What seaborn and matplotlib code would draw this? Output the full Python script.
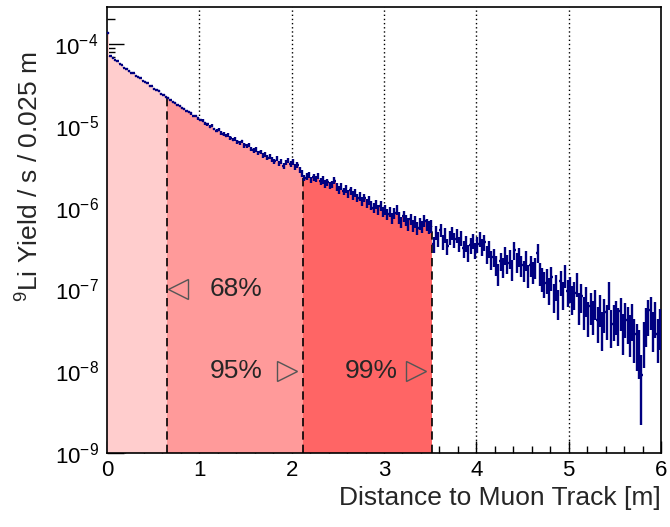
import numpy as np
import pandas as pd
import seaborn as sns
import matplotlib.pyplot as plt
from matplotlib.ticker import FixedLocator, LogLocator, MultipleLocator, NullFormatter, LogFormatterSciNotation

# 9Li yield per 0.025 m bin, log10 values (0 -> 6 m)
log_yield = [
    -3.87, -4.15, -4.17, -4.20, -4.21, -4.24, -4.26, -4.29, -4.30, -4.33,
    -4.35, -4.36, -4.39, -4.40, -4.42, -4.45, -4.46, -4.48, -4.51, -4.52,
    -4.55, -4.56, -4.58, -4.61, -4.62, -4.65, -4.66, -4.69, -4.71, -4.72,
    -4.75, -4.76, -4.78, -4.79, -4.82, -4.83, -4.85, -4.88, -4.88, -4.91,
    -4.93, -4.94, -4.97, -4.98, -5.01, -5.00, -5.04, -5.06, -5.05, -5.09,
    -5.10, -5.12, -5.11, -5.15, -5.17, -5.16, -5.20, -5.21, -5.19, -5.24,
    -5.25, -5.23, -5.28, -5.30, -5.29, -5.33, -5.32, -5.36, -5.35, -5.39,
    -5.37, -5.41, -5.43, -5.40, -5.46, -5.44, -5.49, -5.45, -5.42, -5.47,
    -5.44, -5.50, -5.48, -5.54, -5.58, -5.64, -5.62, -5.60, -5.66, -5.63,
    -5.65, -5.61, -5.68, -5.66, -5.71, -5.69, -5.73, -5.72, -5.67, -5.75,
    -5.78, -5.74, -5.80, -5.77, -5.83, -5.79, -5.85, -5.82, -5.88, -5.86,
    -5.92, -5.88, -5.95, -5.91, -5.97, -6.00, -5.96, -6.03, -5.98, -6.05,
    -6.02, -6.08, -6.05, -6.13, -6.07, -6.03, -6.12, -6.18, -6.10, -6.15,
    -6.20, -6.14, -6.22, -6.17, -6.25, -6.19, -6.23, -6.16, -6.21, -6.24,
    -6.22, -6.45, -6.30, -6.38, -6.27, -6.42, -6.33, -6.47, -6.36, -6.31,
    -6.39, -6.34, -6.44, -6.37, -6.50, -6.43, -6.55, -6.46, -6.40, -6.52,
    -6.45, -6.38, -6.48, -6.42, -6.57, -6.50, -6.63, -6.60, -6.70, -6.80,
    -6.65, -6.72, -6.58, -6.68, -6.62, -6.75, -6.52, -6.66, -6.60, -6.70,
    -6.76, -6.64, -6.82, -6.70, -6.78, -6.73, -6.55, -6.80, -6.86, -6.92,
    -6.88, -7.00, -6.85, -7.08, -6.95, -7.15, -6.90, -7.05, -6.82, -7.02,
    -6.98, -7.10, -7.05, -6.92, -7.20, -7.08, -7.25, -7.12, -7.32, -7.20,
    -7.30, -7.15, -7.38, -7.22, -7.45, -7.28, -7.35, -7.05, -7.42, -7.36,
    -7.30, -7.40, -7.26, -7.48, -7.33, -7.38, -7.50, -7.35, -7.55, -7.62,
    -7.70, -8.05, -7.60, -7.40, -7.30, -7.25, -7.45, -7.32, -7.55, -7.42,
]

# relative error per bin, percent
rel_err_pct = [
    3, 2, 2, 2, 2, 2, 2, 2, 2, 2,
    2, 2, 2, 2, 2, 2, 2, 2, 3, 2,
    3, 2, 3, 3, 3, 3, 3, 3, 3, 3,
    3, 3, 3, 3, 4, 3, 3, 4, 3, 4,
    4, 4, 4, 4, 4, 4, 4, 5, 4, 5,
    5, 5, 5, 5, 5, 5, 5, 5, 5, 6,
    6, 6, 6, 6, 6, 6, 6, 7, 6, 7,
    7, 7, 7, 7, 7, 7, 8, 7, 7, 8,
    8, 8, 8, 8, 9, 9, 9, 9, 9, 9,
    9, 9, 10, 10, 10, 10, 10, 10, 10, 11,
    11, 11, 11, 11, 12, 11, 12, 12, 12, 12,
    13, 12, 13, 13, 13, 14, 13, 14, 14, 14,
    14, 15, 15, 15, 15, 14, 16, 16, 15, 16,
    17, 16, 17, 16, 18, 17, 17, 16, 17, 18,
    18, 22, 19, 20, 18, 21, 20, 22, 20, 19,
    21, 20, 22, 21, 23, 22, 24, 22, 21, 23,
    22, 21, 23, 22, 25, 24, 26, 25, 27, 30,
    26, 28, 25, 27, 26, 29, 24, 27, 26, 28,
    29, 27, 31, 28, 30, 29, 26, 31, 32, 34,
    33, 36, 32, 38, 35, 40, 34, 37, 32, 36,
    35, 39, 37, 33, 42, 38, 44, 40, 46, 42,
    45, 40, 47, 42, 50, 44, 46, 38, 49, 47,
    45, 49, 44, 52, 46, 48, 53, 47, 55, 58,
    60, 75, 57, 50, 46, 44, 51, 47, 55, 52,
]

bin_width = 0.025
cut_edges = [0.0, 0.65, 2.125, 3.525]
region_colors = ['#ffcdcd', '#ff9a9a', '#ff6565']
pct_labels = ['68%', '95%', '99%']
y_decades = [1e-9, 1e-8, 1e-7, 1e-6, 1e-5, 1e-4]

sns.set_style('ticks')
plt.rcParams['font.family'] = ['Liberation Sans', 'DejaVu Sans']
plt.rcParams['mathtext.fontset'] = 'custom'
plt.rcParams['mathtext.rm'] = 'Liberation Sans'
plt.rcParams['mathtext.it'] = 'Liberation Sans:italic'

edges = np.arange(len(log_yield) + 1) * bin_width
centers = edges[:-1] + bin_width / 2
df = pd.DataFrame({'dist': centers, 'yield': 10 ** np.array(log_yield)})
df['err'] = df['yield'] * np.array(rel_err_pct) / 100.0

fig = plt.figure(figsize=(6.7, 5.27), dpi=100)
ax = fig.add_axes([107/670, 74/527, 554/670, 446/527])
ax.set_yscale('log')

# dotted grid at integer metres (behind the fills)
for v in range(1, 6):
    ax.axvline(v, color='black', ls=(0, (1, 2)), lw=1.0, zorder=0.5)

# shaded containment regions
for lo, hi, col in zip(cut_edges[:-1], cut_edges[1:], region_colors):
    sub = df[(df['dist'] > lo) & (df['dist'] < hi)]
    reg_edges = edges[(edges > lo - 1e-9) & (edges < hi + 1e-9)].tolist()
    sns.histplot(data=sub, x='dist', weights='yield', bins=reg_edges,
                 element='step', fill=True, color=col, alpha=1,
                 linewidth=0, ax=ax, zorder=1)

# dashed boundaries up to the histogram
for e in cut_edges[1:]:
    i = int(np.searchsorted(edges, e - 1e-9))
    top = max(df['yield'].iloc[i - 1], df['yield'].iloc[i])
    ax.vlines(e, 1e-9, top, colors='black', linestyles=(0, (5, 3)), lw=1.2, zorder=2)

# data points with errors
ax.errorbar(df['dist'], df['yield'], yerr=df['err'], xerr=bin_width / 2,
            fmt='none', ecolor='#000080', elinewidth=1.7, capsize=0, zorder=3)

# annotations
ax.text(1.40, 1e-7, pct_labels[0], ha='center', va='center', fontsize=19)
ax.plot(0.77, 1e-7, marker='<', ms=15, mfc='none', mec='#555555', mew=1.0, ls='none')
ax.text(1.40, 1e-8, pct_labels[1], ha='center', va='center', fontsize=19)
ax.plot(1.95, 1e-8, marker='>', ms=15, mfc='none', mec='#555555', mew=1.0, ls='none')
ax.text(2.86, 1e-8, pct_labels[2], ha='center', va='center', fontsize=19)
ax.plot(3.35, 1e-8, marker='>', ms=15, mfc='none', mec='#555555', mew=1.0, ls='none')

ax.set_xlim(0, 6)
ax.set_ylim(1e-9, 2.83e-4)
ax.xaxis.set_major_locator(MultipleLocator(1))
ax.xaxis.set_minor_locator(MultipleLocator(0.2))
ax.yaxis.set_major_locator(FixedLocator(y_decades))
ax.yaxis.set_minor_locator(LogLocator(base=10, subs=np.arange(2, 10), numticks=20))
ax.yaxis.set_major_formatter(LogFormatterSciNotation())
ax.yaxis.set_minor_formatter(NullFormatter())

ax.tick_params(which='both', direction='in', top=False, right=False, colors='black', labelsize=16)
ax.tick_params(axis='y', which='major', length=12, width=1.0, pad=6)
ax.tick_params(axis='y', which='minor', length=6, width=1.0)
ax.tick_params(axis='x', which='major', length=9, width=1.0, pad=5)
ax.tick_params(axis='x', which='minor', length=5, width=1.0)
for s in ax.spines.values():
    s.set_linewidth(1.2)
    s.set_color('black')

ax.set_xlabel('Distance to Muon Track [m]', fontsize=19, loc='right', labelpad=4)
ax.set_ylabel(r'$^{9}$Li Yield / s / 0.025 m', fontsize=19, loc='top')
ax.yaxis.set_label_coords(-0.115, 0.9)

fig.savefig('out.png', dpi=100)
